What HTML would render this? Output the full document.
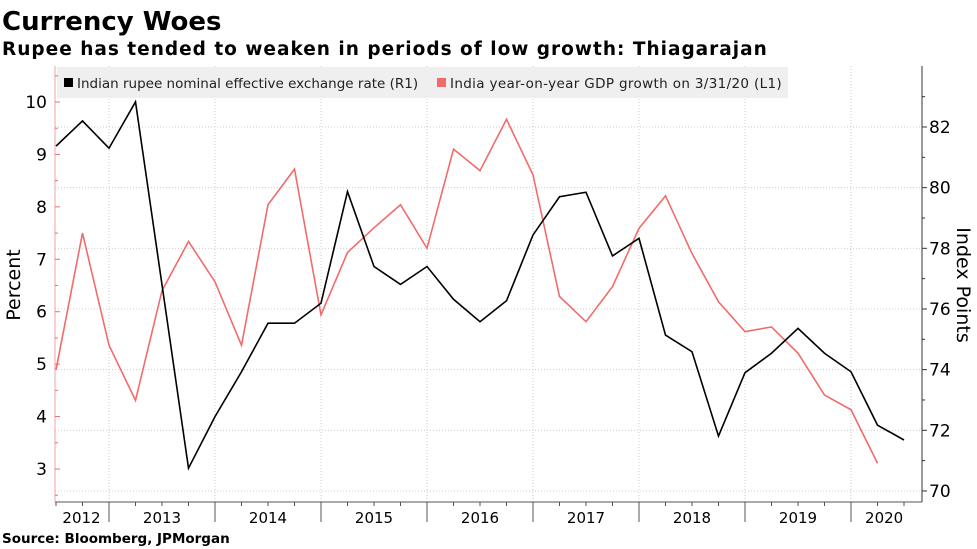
<!DOCTYPE html>
<html><head><meta charset="utf-8">
<style>
body{margin:0;background:#fff;width:977px;height:549px;overflow:hidden;font-family:"DejaVu Sans","Liberation Sans",sans-serif;}
svg{position:absolute;left:0;top:0}
</style></head>
<body>
<svg id="chart" width="977" height="549">
<text x="2" y="30" font-size="26" font-weight="bold" fill="#000">Currency Woes</text>
<text x="2" y="55" font-size="18.5" font-weight="bold" letter-spacing="1" fill="#000">Rupee has tended to weaken in periods of low growth: Thiagarajan</text>
<text x="2" y="543" font-size="13.5" font-weight="bold" fill="#000">Source: Bloomberg, JPMorgan</text>
<g id="grid"></g>
<rect x="57" y="67" width="731" height="31" fill="#efefef"/>
<g>
<rect x="64" y="78" width="9" height="9" fill="#000"/>
<text x="77" y="88" font-size="13.5" fill="#222">Indian rupee nominal effective exchange rate (R1)</text>
</g>
<g>
<rect x="437" y="78" width="9" height="9" fill="#f26b6b"/>
<text x="450" y="88" font-size="13.5" fill="#222" letter-spacing="0.35">India year-on-year GDP growth on 3/31/20 (L1)</text>
</g>
<g id="axes"></g>
<g id="series"></g>
<text transform="translate(20,285) rotate(-90)" text-anchor="middle" font-size="19" fill="#000">Percent</text>
<text transform="translate(957,285) rotate(90)" text-anchor="middle" font-size="19" fill="#000">Index Points</text>
</svg>
<script>
const years = ["2012","2013","2014","2015","2016","2017","2018","2019","2020"];
const leftTicks = [3,4,5,6,7,8,9,10];
const rightTicks = [70,72,74,76,78,80,82];
const gdpGrowth = [4.89,7.5,5.36,4.31,6.4,7.34,6.57,5.36,8.04,8.72,5.94,7.13,7.6,8.04,7.21,9.1,8.69,9.67,8.61,6.29,5.81,6.48,7.59,8.21,7.11,6.19,5.62,5.71,5.21,4.41,4.13,3.11];
const rupeeNeer = [81.37,82.2,81.3,82.83,76.8,70.75,72.45,73.93,75.53,75.53,76.19,79.87,77.4,76.81,77.4,76.32,75.58,76.27,78.44,79.7,79.85,77.75,78.33,75.14,74.59,71.81,73.9,74.54,75.36,74.54,73.93,72.17,71.68];

const NS="http://www.w3.org/2000/svg";
const X0=56, QW=26.5, PL=55, PR=922, PT=66, PB=502;
const xq = i => X0 + QW*i;
const yL = v => 102 + (10-v)*52.43;
const yR = v => 127 + (82-v)*30.33;
function mk(tag, attrs, parent){const e=document.createElementNS(NS,tag);for(const k in attrs)e.setAttribute(k,attrs[k]);parent.appendChild(e);return e;}
const grid=document.getElementById('grid'), axes=document.getElementById('axes'), series=document.getElementById('series');

for(let v=70; v<=82; v+=2){
  const l=mk('line',{x1:PL,x2:PR,y1:yR(v),y2:yR(v),stroke:'#ccc','stroke-dasharray':'1,2','stroke-width':1},grid);
  
  
}
years.forEach((y,k)=>{
  const start = k===0 ? -0.05 : 2+4*(k-1);
  const end = k===0 ? 2 : Math.min(2+4*k, 32.5);
  if(k>0){
    const l=mk('line',{x1:xq(start),x2:xq(start),y1:PT,y2:PB,stroke:'#ccc','stroke-dasharray':'1,2'},grid);
    
    
    const t=mk('line',{x1:xq(start),x2:xq(start),y1:PB,y2:PB+20,stroke:'#555'},axes);
    
    
  }
  const tx=mk('text',{x:(xq(Math.max(start,0))+xq(end))/2 - (k===0?1:0),y:PB+21,'font-size':15,'text-anchor':'middle',fill:'#000'},axes);
  tx.textContent=y;
  
  
});
for(let i=0;i<=32;i++){
  const t=mk('line',{x1:xq(i),x2:xq(i),y1:PB,y2:PB+4,stroke:'#555'},axes);
  
  
}
const bx=mk('line',{x1:PL,x2:PR,y1:PB,y2:PB,stroke:'#555'},axes);


const la=mk('line',{x1:PL,x2:PL,y1:PT,y2:PB,stroke:'#f7a0a0'},axes);


for(let v=2.5; v<=10.51; v+=0.5){
  const major=Math.abs(v-Math.round(v))<0.01;
  const t=mk('line',{x1:PL,x2:PL+(major?5:3),y1:yL(v),y2:yL(v),stroke:'#f26b6b'},axes);
  
  
}
leftTicks.forEach(v=>{
  const t=mk('text',{x:47,y:yL(v)+6,'font-size':17,'text-anchor':'end',fill:'#000'},axes);
  t.textContent=v;
  
  
});
const ra=mk('line',{x1:PR,x2:PR,y1:PT,y2:PB,stroke:'#333'},axes);


for(let v=70; v<=83; v++){
  const t=mk('line',{x1:PR,x2:PR+(v%2===0?5:3),y1:yR(v),y2:yR(v),stroke:'#333'},axes);
  
  
}
rightTicks.forEach(v=>{
  const t=mk('text',{x:929,y:yR(v)+6,'font-size':17,fill:'#000'},axes);
  t.textContent=v;
  
  
});
const gdpLine=mk('polyline',{points:gdpGrowth.map((v,i)=>xq(i)+','+yL(v)).join(' '),fill:'none',stroke:'#f26b6b','stroke-width':1.6},series);


const rupLine=mk('polyline',{points:rupeeNeer.map((v,i)=>xq(i)+','+yR(v)).join(' '),fill:'none',stroke:'#000','stroke-width':1.6},series);


</script>
</body></html>
